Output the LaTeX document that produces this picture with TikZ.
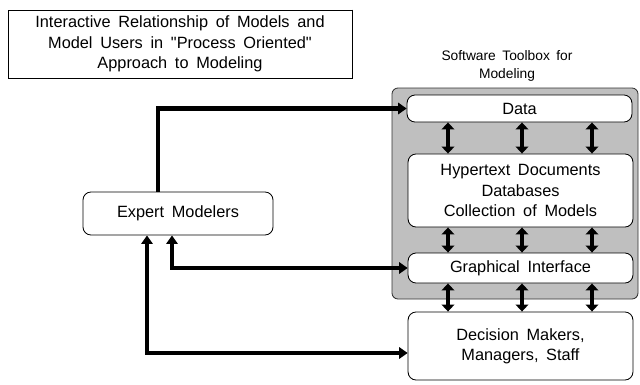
\documentclass[tikz,border=0pt]{standalone}
\usepackage{fontspec}
\setmainfont{Liberation Sans}[WordSpace=1.7,Ligatures=TeXOff]
\usetikzlibrary{positioning,calc,arrows.meta}

\tikzset{
  pane/.style={draw=black,line width=0.6pt,fill=white,rounded corners=0.2cm,
    minimum width=5.62cm,align=center,inner sep=0pt,
    font=\fontsize{11.6}{14.5}\selectfont},
  conn/.style={line width=3pt,line cap=butt,
    arrows={-Triangle[length=6pt,width=8pt]}},
  twoway/.style={line width=2.4pt,
    arrows={Triangle[length=5pt,width=9pt]-Triangle[length=5pt,width=9pt]}}
}

\begin{document}
\begin{tikzpicture}[x=0.025cm,y=-0.025cm]
		\useasboundingbox (0,0) rectangle (640,384);
		% title
		\node[draw,line width=0.6pt,minimum width=8.6cm,minimum height=1.7cm,align=center,
			font=\fontsize{11.6}{14.5}\selectfont] (title) at (180,44)
			{Interactive Relationship of Models and\\Model Users in "Process Oriented"\\Approach to Modeling};
		\draw[line width=1.3pt] (title.north east) |- (title.south west);
		% toolbox
		\node[align=center,font=\fontsize{9.8}{12.2}\selectfont] (boxlabel) at (507,66) {Software Toolbox for\\Modeling};
		\filldraw[fill=black!25,draw=black!80,line width=0.6pt,rounded corners=0.15cm] (392,88) rectangle (638,299);
		\node[pane,minimum height=0.675cm] (data) at (519.5,108.5) {Data};
		\node[pane,minimum height=1.825cm] (hyper) at (520.5,190.5) {Hypertext Documents\\Databases\\Collection of Models};
		\node[pane,minimum height=0.75cm] (gui) at (520.5,268) {Graphical Interface};
		\node[pane,minimum height=1.7cm] (users) at (520.5,346) {Decision Makers,\\Managers, Staff};
		% modelers
		\node[pane,minimum width=4.75cm,minimum height=1.075cm] (expert) at (178,213.5) {Expert Modelers};
		% links
		\coordinate (up) at (158,0);
		\coordinate (mid) at (172,0);
		\coordinate (low) at (147,0);
		\draw[conn] (expert.north -| up) |- (data.west);
		\draw[conn,arrows={Triangle[length=6pt,width=8pt]-Triangle[length=6pt,width=8pt]}] (expert.south -| mid) |- (gui.west);
		\draw[conn,arrows={Triangle[length=6pt,width=8pt]-Triangle[length=6pt,width=8pt]}] (expert.south -| low) |- ([yshift=-0.175cm]users.west);
		% vertical exchanges
		\foreach \x [count=\i] in {448,522,592} {
			\coordinate (col\i) at (\x,0);
			\draw[twoway] (data.south -| col\i) -- (hyper.north -| col\i);
			\draw[twoway] (hyper.south -| col\i) -- (gui.north -| col\i);
			\draw[twoway] (gui.south -| col\i) -- (users.north -| col\i);
		}
	\end{tikzpicture}
\end{document}
